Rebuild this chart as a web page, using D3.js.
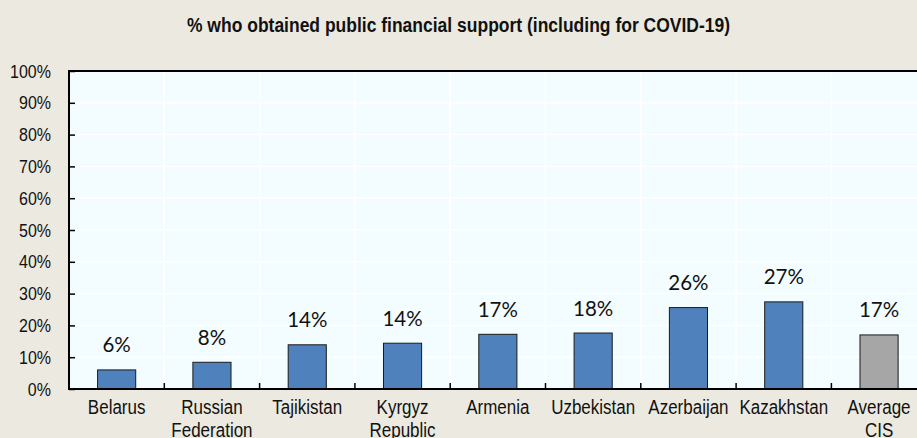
<!DOCTYPE html>
<html>
<head>
<meta charset="utf-8">
<script src="https://cdn.jsdelivr.net/npm/d3@7"></script>
<style>
  html, body { margin: 0; padding: 0; background: #eceae0; }
  svg { display: block; }
</style>
</head>
<body>
<svg id="chart" width="917" height="438"></svg>
<script>
// Share of respondents who obtained public financial support, by country
const categories = ["Belarus", "Russian Federation", "Tajikistan", "Kyrgyz Republic",
  "Armenia", "Uzbekistan", "Azerbaijan", "Kazakhstan", "Average CIS"];
const values = [6.0, 8.4, 13.9, 14.4, 17.2, 17.6, 25.6, 27.4, 17.0];
const groups = ["country", "country", "country", "country", "country",
  "country", "country", "country", "average"];
const yTicks = [0, 10, 20, 30, 40, 50, 60, 70, 80, 90, 100];
const title = "% who obtained public financial support (including for COVID-19)";

const W = 917, H = 438;
const plot = { left: 69, top: 71, right: 926.7, bottom: 389 };
const stretch = 1.15; // text is drawn slightly taller than wide

const svg = d3.select("#chart");

const x = d3.scaleBand().domain(categories).range([plot.left, plot.right])
  .paddingInner(0).paddingOuter(0);
const y = d3.scaleLinear().domain([0, 100]).range([plot.bottom, plot.top]);
const barW = x.bandwidth() * 0.4;
const colour = { country: "#4f81bd", average: "#a6a6a6" };

// plot background
svg.append("rect")
  .attr("x", plot.left).attr("y", plot.top)
  .attr("width", plot.right - plot.left).attr("height", plot.bottom - plot.top)
  .attr("fill", "#f3fcff");

// white grid lines
const grid = svg.append("g");
grid.selectAll("line.h").data(yTicks.slice(1, -1)).join("line")
  .attr("x1", plot.left).attr("x2", plot.right)
  .attr("y1", d => y(d)).attr("y2", d => y(d))
  .attr("stroke", "#ffffff").attr("stroke-width", 1.5);
grid.selectAll("line.v").data(categories.slice(1)).join("line")
  .attr("x1", d => x(d)).attr("x2", d => x(d))
  .attr("y1", plot.top).attr("y2", plot.bottom)
  .attr("stroke", "#ffffff").attr("stroke-width", 1.5);

// bars
svg.append("g").selectAll("rect").data(categories).join("rect")
  .attr("x", d => x(d) + (x.bandwidth() - barW) / 2)
  .attr("y", (d, i) => y(values[i]))
  .attr("width", barW)
  .attr("height", (d, i) => y(0) - y(values[i]))
  .attr("fill", (d, i) => colour[groups[i]])
  .attr("stroke", "#1a1a1a").attr("stroke-width", 1);

// value labels
const fmt = v => d3.format(".0f")(v) + "%";
svg.append("g").selectAll("text").data(categories).join("text")
  .attr("x", d => x(d) + x.bandwidth() / 2)
  .attr("y", (d, i) => y(values[i]) - 17.5)
  .attr("text-anchor", "middle")
  .attr("font-family", "Lato, 'Open Sans', sans-serif")
  .attr("font-size", 20.5)
  .attr("fill", "#111")
  .text((d, i) => fmt(values[i]));

// y axis
const yAxis = d3.axisLeft(y).tickValues(yTicks).tickSize(0).tickPadding(0)
  .tickFormat(d => d + "%");
const yg = svg.append("g").attr("transform", `translate(${plot.left},0)`).call(yAxis);
yg.select(".domain").remove();
yg.selectAll(".tick text")
  .attr("x", null).attr("dy", null)
  .attr("font-family", "'Liberation Sans', Arial, sans-serif")
  .attr("font-size", 16).attr("fill", "#111")
  .attr("text-anchor", "end")
  .attr("transform", `translate(-18,6) scale(1,${stretch})`);
yg.selectAll(".tick").append("line")
  .attr("x1", 0).attr("x2", 6).attr("stroke", "#000").attr("stroke-width", 1.5);

// x axis category labels
const xg = svg.append("g");
categories.forEach(c => {
  const lines = c.split(" ");
  const t = xg.append("text")
    .attr("transform", `translate(${x(c) + x.bandwidth() / 2},414) scale(1,${stretch})`)
    .attr("text-anchor", "middle")
    .attr("font-family", "'Liberation Sans', Arial, sans-serif")
    .attr("font-size", 17).attr("fill", "#111");
  lines.forEach((l, k) => t.append("tspan").attr("x", 0).attr("y", k * 20).text(l));
});
xg.selectAll("line.tick").data(categories.slice(1)).join("line")
  .attr("x1", d => x(d)).attr("x2", d => x(d))
  .attr("y1", plot.bottom).attr("y2", plot.bottom - 6)
  .attr("stroke", "#000").attr("stroke-width", 1.5);

// frame: left, bottom and top edges
svg.append("line").attr("x1", plot.left).attr("x2", plot.left)
  .attr("y1", plot.top).attr("y2", plot.bottom + 1)
  .attr("stroke", "#000").attr("stroke-width", 2);
svg.append("line").attr("x1", plot.left - 1).attr("x2", plot.right)
  .attr("y1", plot.bottom).attr("y2", plot.bottom)
  .attr("stroke", "#000").attr("stroke-width", 2);
svg.append("line").attr("x1", plot.left - 1).attr("x2", plot.right)
  .attr("y1", plot.top).attr("y2", plot.top)
  .attr("stroke", "#000").attr("stroke-width", 2);

// title
svg.append("text")
  .attr("transform", `translate(${W / 2},31.5) scale(1,${stretch})`)
  .attr("text-anchor", "middle")
  .attr("font-family", "'Liberation Sans', Arial, sans-serif")
  .attr("font-weight", "bold")
  .attr("font-size", 17.5)
  .attr("fill", "#111")
  .text(title);
</script>
</body>
</html>
